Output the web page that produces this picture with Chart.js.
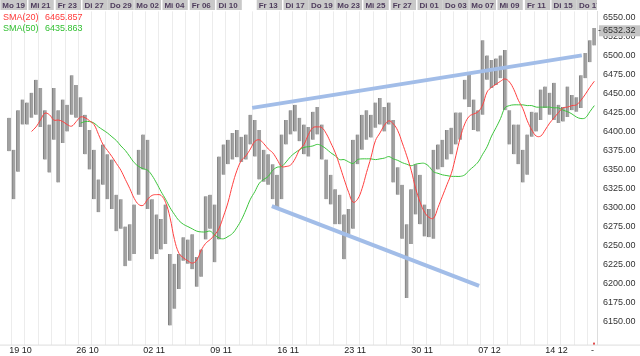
<!DOCTYPE html>
<html><head><meta charset="utf-8">
<script src="https://cdn.jsdelivr.net/npm/chart.js@4.4.1/dist/chart.umd.min.js"></script>
<style>html,body{margin:0;padding:0;background:#fff}#wrap{width:640px;height:356px;position:relative}</style>
</head><body><div id="wrap"><canvas id="c" width="640" height="356"></canvas></div>
<script>
// ---- data (3 intraday bars per trading day, 44 trading days) ----
const highs = [6418,6376,6428,6442,6438,6451,6468,6457,6428,6409,6457,6428,6442,6435,6474,6461,6445,6422,6402,6376,
6337,6383,6370,6363,6317,6311,6275,6278,6304,6376,6396,6389,6311,6291,6285,6304,6239,6226,6239,6261,
6258,6265,6235,6245,6315,6317,6304,6367,6383,6389,6398,6402,6393,6396,6422,6415,6402,6376,6370,6357,
6343,6396,6415,6428,6435,6418,6409,6406,6426,6432,6409,6363,6343,6324,6317,6291,6298,6389,6396,6422,
6428,6422,6438,6444,6432,6438,6415,6353,6330,6278,6324,6357,6343,6304,6298,6376,6383,6389,6402,6405,
6425,6425,6468,6477,6442,6428,6520,6500,6494,6496,6500,6507,6428,6409,6409,6376,6396,6426,6425,6455,
6459,6451,6464,6435,6432,6459,6448,6445,6474,6503,6520,6536];
const lows = [6374,6311,6347,6409,6409,6418,6422,6406,6363,6346,6389,6333,6385,6400,6422,6418,6406,6370,6350,6311,
6294,6330,6311,6298,6269,6272,6223,6230,6239,6317,6350,6298,6232,6239,6245,6252,6145,6167,6193,6230,
6226,6219,6196,6209,6258,6272,6228,6258,6343,6357,6363,6366,6360,6363,6383,6367,6337,6334,6330,6311,
6298,6311,6383,6396,6400,6387,6370,6367,6389,6396,6363,6311,6304,6278,6278,6232,6265,6272,6357,6376,
6389,6392,6405,6409,6400,6409,6333,6317,6259,6181,6252,6291,6278,6262,6261,6259,6350,6353,6363,6370,
6383,6389,6442,6432,6402,6400,6422,6468,6457,6461,6470,6428,6383,6370,6357,6333,6343,6393,6400,6415,
6431,6422,6415,6411,6413,6419,6428,6426,6431,6470,6491,6513];
const sma20 = [null,null,null,null,null,6400,6406,6415,6424,6422,6415,6415,6413,6409,6407,6413,6419,6418,6414,6409,
6396,6383,6375,6367,6358,6349,6337,6325,6312,6304,6303,6311,6316,6317,6316,6307,6287,6258,6240,6234,
6230,6227,6231,6244,6253,6258,6264,6273,6289,6307,6330,6349,6362,6368,6377,6387,6389,6384,6377,6372,
6363,6354,6354,6356,6364,6376,6383,6396,6405,6406,6405,6397,6385,6372,6355,6337,6320,6307,6311,6325,
6346,6366,6388,6398,6408,6414,6410,6401,6385,6368,6349,6325,6307,6294,6287,6286,6300,6315,6330,6345,
6368,6392,6410,6420,6423,6426,6435,6452,6458,6462,6466,6469,6465,6455,6441,6430,6414,6402,6394,6394,
6402,6411,6418,6425,6431,6432,6434,6435,6441,6449,6458,6466];
const sma50 = [null,null,null,null,null,null,null,null,null,null,null,null,null,null,null,null,6411,6413,6413,6411,
6406,6402,6398,6393,6388,6381,6375,6367,6359,6354,6351,6349,6342,6332,6321,6311,6300,6291,6283,6278,
6275,6272,6269,6268,6268,6269,6264,6260,6259,6262,6266,6274,6284,6297,6311,6321,6332,6337,6341,6349,
6353,6354,6360,6367,6372,6376,6379,6380,6381,6383,6381,6377,6372,6368,6363,6363,6360,6358,6363,6364,
6364,6364,6363,6364,6365,6367,6364,6362,6359,6357,6355,6357,6358,6358,6354,6347,6345,6343,6342,6341,
6341,6341,6343,6349,6354,6360,6370,6380,6394,6405,6417,6431,6434,6435,6435,6435,6434,6434,6432,6432,
6432,6432,6431,6431,6428,6426,6423,6419,6417,6418,6426,6434];
const smaNames = ['SMA(20)','SMA(50)'];
const smaLast = [6465.857, 6435.863];
const lastPrice = 6532.32;
// trend lines: bar index / price of both ends
const trendUpperX = [54.4, 128.2], trendUpperY = [6431, 6500];
const trendLowerX = [58.8, 105.2], trendLowerY = [6302, 6197];
// labels
const dayLabels = ['Mo 19','Mi 21','Fr 23','Di 27','Do 29','Mo 02','Mi 04','Fr 06','Di 10','Fr 13','Di 17','Do 19','Mo 23','Mi 25','Fr 27','Di 01','Do 03','Mo 07','Mi 09','Fr 11','Di 15','Do 17'];
const dayLabelDays = [0,2,4,6,8,10,12,14,16,19,21,23,25,27,29,31,33,35,37,39,41,43];
const weekLabels = ['19 10','26 10','02 11','09 11','16 11','23 11','30 11','07 12','14 12'];
const weekLabelDays = [0,5,10,15,20,25,30,35,40];
const yTicks = [6150,6175,6200,6225,6250,6275,6300,6325,6350,6375,6400,6425,6450,6475,6500,6525,6550];
const BPD = 3; // bars per trading day
const NDAYS = 44;

const FONT = 'Liberation Sans, Arial, sans-serif';
const bars = highs.map((h,i)=>({x:i, y:[lows[i], h]}));
const line = arr => arr.map((v,i)=>({x:i,y:v})).filter(p=>p.y!==null);

const overlay = {
  id:'overlay',
  afterDraw(chart){
    const c = chart.ctx, xs = chart.scales.x, ys = chart.scales.y, ca = chart.chartArea;
    c.save();
    // top day strip
    c.font = 'bold 8px ' + FONT;
    c.textBaseline = 'middle';
    const dayW = xs.getPixelForValue(BPD) - xs.getPixelForValue(0);
    c.save();
    c.beginPath(); c.rect(0,0,ca.right,12); c.clip();
    dayLabels.forEach((t,k)=>{
      const cx = xs.getPixelForValue(dayLabelDays[k]*BPD+1);
      const w = c.measureText(t).width;
      let tx = Math.max(1, cx - w/2);
      let bx = Math.max(0, tx - 2);
      c.fillStyle = '#c9c9c9';
      c.fillRect(bx, 0, Math.max(w+4, 2*dayW - 1.5), 10);
      c.fillStyle = '#4e3c5c';
      c.textAlign = 'left';
      c.fillText(t, tx, 5.5);
    });
    c.restore();
    // legend
    c.font = '9px ' + FONT;
    c.textAlign = 'left';
    const cols = ['#ff3a3a','#33c033'];
    smaNames.forEach((n,k)=>{
      c.fillStyle = cols[k];
      c.fillText(n, 3, 17.5 + k*11);
      c.fillText(smaLast[k].toFixed(3), 45, 17.5 + k*11);
    });
    // bottom axis line and week labels
    c.strokeStyle = '#dddddd'; c.lineWidth = 1;
    c.beginPath(); c.moveTo(0, ca.bottom+0.5); c.lineTo(640, ca.bottom+0.5); c.stroke();
    c.fillStyle = '#222';
    c.font = '9px ' + FONT;
    c.textBaseline = 'middle';
    weekLabels.forEach((t,k)=>{
      c.fillText(t, xs.getPixelForValue(weekLabelDays[k]*BPD), ca.bottom + 5.5);
    });
    c.fillText('-', 591, ca.bottom + 5.5);
    c.fillStyle = '#e05050';
    c.fillRect(593, ca.bottom - 2, 2, 2);
    // last price box
    const py = ys.getPixelForValue(lastPrice);
    c.fillStyle = '#c4c4c4';
    c.fillRect(ca.right + 2, py - 5.5, 43, 11);
    c.fillStyle = '#333';
    c.fillText('-', ca.right + 1, py);
    c.fillText(lastPrice.toFixed(2), ca.right + 6, py);
    c.restore();
  }
};

new Chart(document.getElementById('c'), {
  type:'bar',
  data:{datasets:[
    {type:'line', data: trendUpperX.map((x,k)=>({x, y:trendUpperY[k]})), borderColor:'#a2bde8', borderWidth:4, pointRadius:0, order:0},
    {type:'line', data: trendLowerX.map((x,k)=>({x, y:trendLowerY[k]})), borderColor:'#a2bde8', borderWidth:4, pointRadius:0, order:0},
    {type:'line', data: line(sma20), borderColor:'#ff4040', borderWidth:1, pointRadius:0, tension:0.4, order:1},
    {type:'line', data: line(sma50), borderColor:'#3cc43c', borderWidth:1, pointRadius:0, tension:0.4, order:2},
    {type:'bar', data: bars, backgroundColor:'#a2a2a2', borderColor:'#7e7e7e', borderWidth:{left:1,right:0,top:0,bottom:0}, borderSkipped:false, barThickness:3.5, order:3}
  ]},
  options:{
    responsive:false, animation:false, devicePixelRatio:1,
    layout:{padding:{top:11,bottom:10,left:0,right:0}},
    plugins:{legend:{display:false}, tooltip:{enabled:false}},
    scales:{
      x:{type:'linear', min:-2.06, max:131.6, offset:false,
         grid:{color:'#ececec', drawTicks:false}, border:{display:false},
         ticks:{display:false},
         afterBuildTicks: s => { const t=[]; for(let d=0; d<=NDAYS; d++) t.push({value:d*BPD-1}); s.ticks=t; },
         afterFit: s => { s.height = 0; }},
      y:{position:'right', min:6119.9, max:6557.8,
         grid:{display:false, drawTicks:false}, border:{display:true, color:'#dddddd'},
         ticks:{padding:6, color:'#333', font:{size:9, family:FONT}, callback: v => Number(v).toFixed(2)},
         afterBuildTicks: s => { s.ticks = yTicks.map(v=>({value:v})); },
         afterFit: s => { s.width = 43; }}
    }
  },
  plugins:[overlay]
});
</script></body></html>
